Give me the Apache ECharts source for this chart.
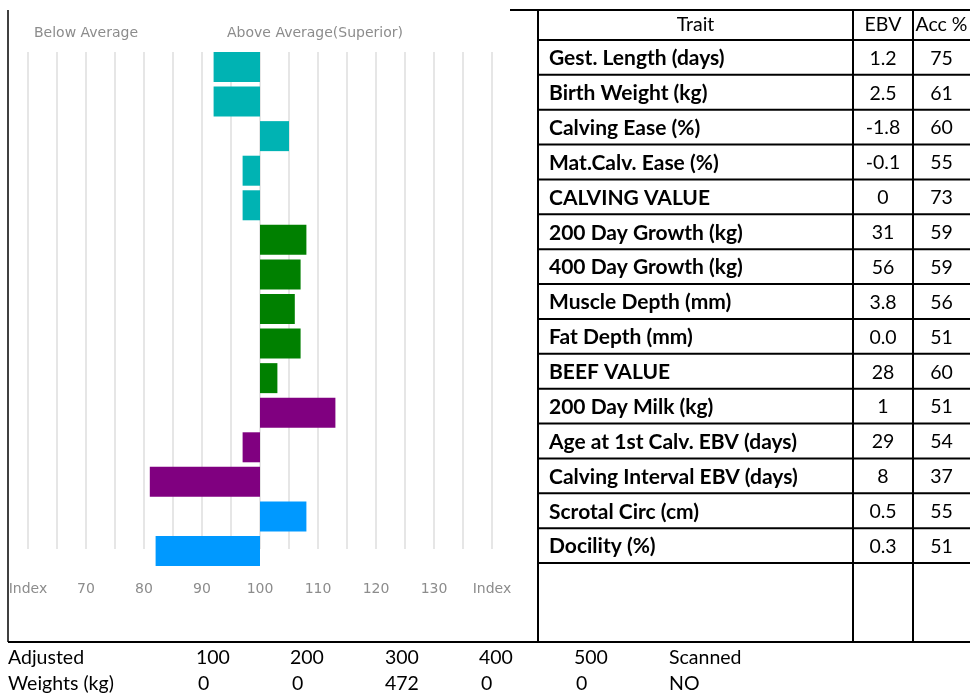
<!DOCTYPE html>
<html>
<head>
<meta charset="utf-8">
<script src="https://cdn.jsdelivr.net/npm/echarts@6/dist/echarts.min.js"></script>
<style>html,body{margin:0;padding:0;background:#fff}#c{width:970px;height:694px}</style>
</head>
<body>
<div id="c"></div>
<script>
// ---- data ----
const traits = ['Gest. Length (days)', 'Birth Weight (kg)', 'Calving Ease (%)', 'Mat.Calv. Ease (%)', 'CALVING VALUE',
  '200 Day Growth (kg)', '400 Day Growth (kg)', 'Muscle Depth (mm)', 'Fat Depth (mm)', 'BEEF VALUE',
  '200 Day Milk (kg)', 'Age at 1st Calv. EBV (days)', 'Calving Interval EBV (days)', 'Scrotal Circ (cm)', 'Docility (%)'];
const ebvValues = ['1.2', '2.5', '-1.8', '-0.1', '0', '31', '56', '3.8', '0.0', '28', '1', '29', '8', '0.5', '0.3'];
const accValues = ['75', '61', '60', '55', '73', '59', '59', '56', '51', '60', '51', '54', '37', '55', '51'];
const indexValues = [92, 92, 105, 97, 97, 108, 107, 106, 107, 103, 113, 97, 81, 108, 82];
const traitGroups = ['calving', 'calving', 'calving', 'calving', 'calving',
  'growth', 'growth', 'growth', 'growth', 'growth',
  'maternal', 'maternal', 'maternal', 'other', 'other'];
const averageIndex = 100;
const axisTickLabels = ['Index', '70', '80', '90', '100', '110', '120', '130', 'Index'];
const tableHeaders = ['Trait', 'EBV', 'Acc %'];
const weightRowLabels = ['Adjusted', 'Weights (kg)'];
const weightAges = ['100', '200', '300', '400', '500'];
const weightValues = ['0', '0', '472', '0', '0'];
const scannedLabel = 'Scanned';
const scannedValue = 'NO';

// ---- styles ----
const groupColors = { calving: '#00B3B3', growth: '#008000', maternal: '#800080', other: '#0099FF' };
const sans = 'Lato, "Open Sans", sans-serif';
const chartFont = '"DejaVu Sans", Verdana, sans-serif';
const gray = '#8c8c8c';
const regFont = '19.5px ' + sans;
const boldFont = 'bold 21px ' + sans;

const chart = echarts.init(document.getElementById('c'));

const graphics = [];
function text(x, y, str, opts) {
  graphics.push({ type: 'text', x: x, y: y, silent: true,
    style: Object.assign({ text: str, fill: '#000', font: regFont, textVerticalAlign: 'middle', textAlign: 'left' }, opts || {}) });
}
function line(x1, y1, x2, y2, w) {
  graphics.push({ type: 'line', silent: true, shape: { x1: x1, y1: y1, x2: x2, y2: y2 }, style: { stroke: '#000', lineWidth: w || 2 } });
}

// chart headers
text(34, 33, 'Below Average', { fill: gray, font: '14px ' + chartFont });
text(227, 33, 'Above Average(Superior)', { fill: gray, font: '14px ' + chartFont });

// table
const tLeft = 538, c1 = 853, c2 = 913, tRight = 970, tTop = 10, hdrBottom = 40, rowH = 34.87, tBottom = 642;
line(510, tTop, tRight, tTop, 2);
line(8, tTop, 8, tBottom, 1.5);
line(tLeft, tTop, tLeft, tBottom, 2);
line(c1, tTop, c1, tBottom, 2);
line(c2, tTop, c2, tBottom, 2);
line(8, tBottom, tRight, tBottom, 2);
for (let k = 0; k <= traits.length; k++) {
  const y = hdrBottom + k * rowH;
  line(tLeft, y, tRight, y, 2);
}
text((tLeft + c1) / 2, 25, tableHeaders[0], { textAlign: 'center' });
text((c1 + c2) / 2, 25, tableHeaders[1], { textAlign: 'center' });
text((c2 + tRight) / 2, 25, tableHeaders[2], { textAlign: 'center' });
traits.forEach(function (t, i) {
  const y = hdrBottom + (i + 0.5) * rowH + 1;
  text(549, y, t, { font: boldFont });
  text((c1 + c2) / 2, y, ebvValues[i], { textAlign: 'center' });
  text((c2 + tRight) / 2, y, accValues[i], { textAlign: 'center' });
});

// weights
const wCols = [196, 290, 385, 479, 574];
text(8, 658, weightRowLabels[0]);
text(8, 684, weightRowLabels[1]);
weightAges.forEach(function (a, i) { text(wCols[i], 658, a); });
weightValues.forEach(function (v, i) { text(wCols[i] + (v.length === 1 ? 2 : 0), 684, v); });
text(669, 658, scannedLabel);
text(669, 684, scannedValue);

const deviation = indexValues.map(function (v, i) {
  return { value: v - averageIndex, itemStyle: { color: groupColors[traitGroups[i]] } };
});

function tickLabel(v) {
  const idx = Math.round((v + 40) / 10);
  if (v % 10 !== 0) return '';
  return axisTickLabels[idx] || '';
}

chart.setOption({
  animation: false,
  grid: [
    { left: 28, width: 464, top: 49.7, height: 518.6 },
    { left: 28, width: 464, top: 52, height: 497 }
  ],
  xAxis: [
    { gridIndex: 0, type: 'value', min: -40, max: 40, interval: 5,
      axisLine: { show: false }, axisTick: { show: false }, splitLine: { show: false },
      axisLabel: { show: true, showMinLabel: true, showMaxLabel: true, margin: 14,
        color: gray, fontFamily: chartFont, fontSize: 14, formatter: tickLabel } },
    { gridIndex: 1, type: 'value', min: -40, max: 40, interval: 5,
      axisLine: { show: false }, axisTick: { show: false }, axisLabel: { show: false },
      splitLine: { show: true, lineStyle: { color: '#dedede', width: 1.5 } } }
  ],
  yAxis: [
    { gridIndex: 0, type: 'category', data: traits, inverse: true, show: false },
    { gridIndex: 1, type: 'category', data: traits, inverse: true, show: false }
  ],
  series: [
    { type: 'bar', xAxisIndex: 0, yAxisIndex: 0, data: deviation, barWidth: 30, z: 3 }
  ],
  graphic: graphics
});
</script>
</body>
</html>
